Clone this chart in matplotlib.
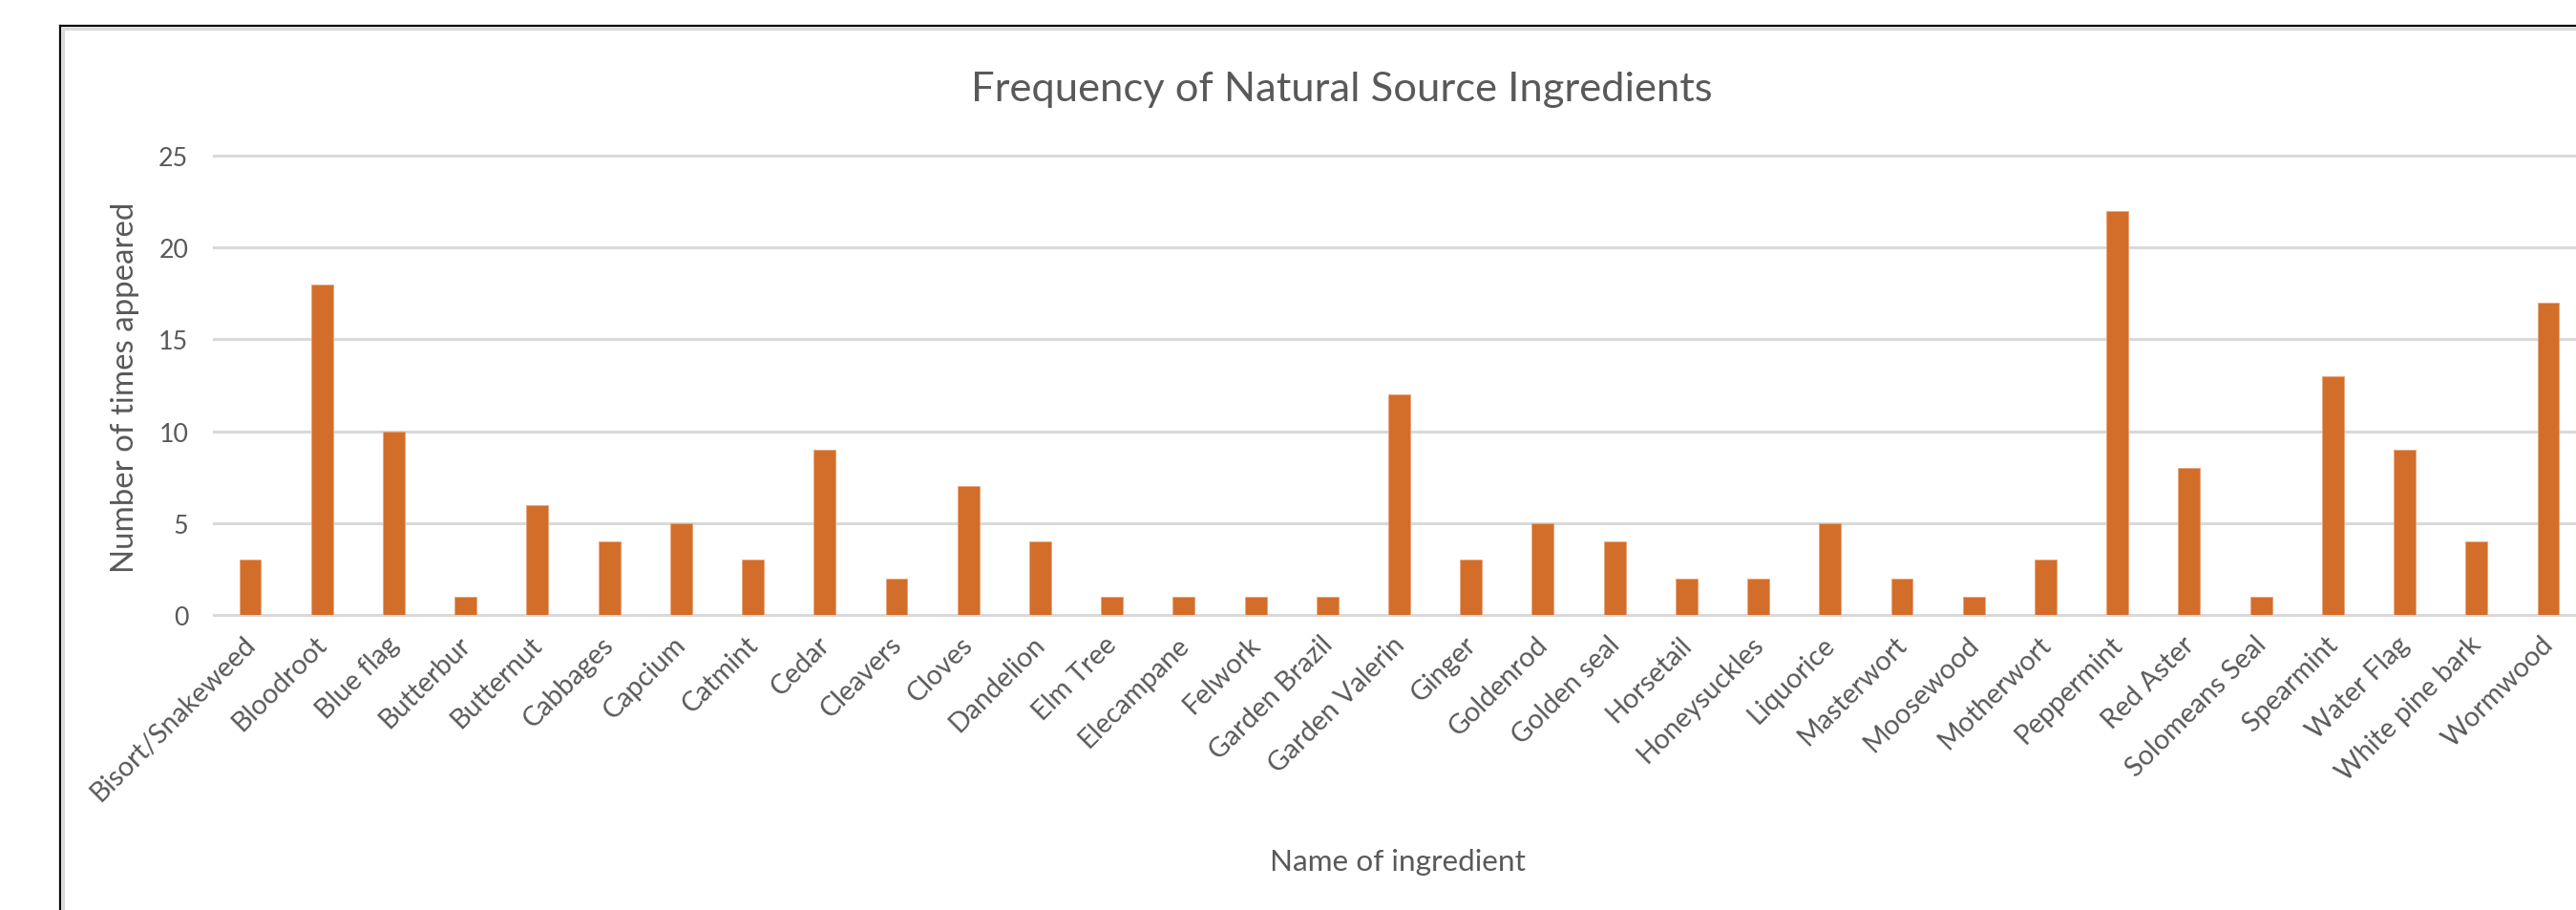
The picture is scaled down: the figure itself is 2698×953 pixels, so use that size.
import matplotlib
matplotlib.use("Agg")
import matplotlib.pyplot as plt
from matplotlib.font_manager import FontProperties
from matplotlib.lines import Line2D
from matplotlib.transforms import ScaledTranslation
import numpy as np

# ---------------- data ----------------
categories = [
    "Bisort/Snakeweed", "Bloodroot", "Blue flag", "Butterbur", "Butternut",
    "Cabbages", "Capcium", "Catmint", "Cedar", "Cleavers", "Cloves",
    "Dandelion", "Elm Tree", "Elecampane", "Felwork", "Garden Brazil",
    "Garden Valerin", "Ginger", "Goldenrod", "Golden seal", "Horsetail",
    "Honeysuckles", "Liquorice", "Masterwort", "Moosewood", "Motherwort",
    "Peppermint", "Red Aster", "Solomeans Seal", "Spearmint", "Water Flag",
    "White pine bark", "Wormwood",
]
counts = [3, 18, 10, 1, 6, 4, 5, 3, 9, 2, 7, 4, 1, 1, 1, 1, 12, 3, 5, 4, 2,
          2, 5, 2, 1, 3, 22, 8, 1, 13, 9, 4, 17]
y_ticks = [0, 5, 10, 15, 20, 25]
title_text = "Frequency of Natural Source Ingredients"
xlabel_text = "Name of ingredient"
ylabel_text = "Number of times appeared"

# ---------------- style ----------------
FONT = ["Lato", "DejaVu Sans"]
plt.rcParams["font.family"] = FONT
GREY = "#595959"
BAR = "#D36E2A"
GRID = "#D9D9D9"

W, H, DPI = 2698, 954, 100
fig = plt.figure(figsize=(W / DPI, H / DPI), dpi=DPI, facecolor="white")


def fx(px):
    return px / W


def fy(py):
    return 1 - py / H


renderer = fig.canvas.get_renderer()


def fit(s, target, base=20.0):
    fp = FontProperties(family=FONT, size=base)
    w, _, _ = renderer.get_text_width_height_descent(s, fp, ismath=False)
    return base * target / w


title_size = fit(title_text, 777)
xlabel_size = fit(xlabel_text, 268)
ylabel_size = fit(ylabel_text, 389)
ytick_size = fit("25", 31)
xtick_size = fit("Bisort/Snakeweed", 232)

ax_left, ax_right, ax_top, ax_bottom = 224.4, 2706.6, 164, 645
ax = fig.add_axes([fx(ax_left), fy(ax_bottom), (ax_right - ax_left) / W,
                   (ax_bottom - ax_top) / H])
ax.set_facecolor("white")

x = np.arange(len(categories))
ax.bar(x, counts, width=0.305, color=BAR, edgecolor="#E8A57C",
       linewidth=0.6, zorder=3)
ax.set_xlim(-0.5, len(categories) - 0.5)
ax.set_ylim(0, 25)
ax.set_yticks(y_ticks)
ax.yaxis.grid(True, color=GRID, linewidth=2.2)
ax.xaxis.grid(False)
ax.set_axisbelow(True)
for ln in ax.get_ygridlines():
    ln.set_clip_on(False)
for s in ax.spines.values():
    s.set_visible(False)

ax.tick_params(axis="both", length=0)
ax.tick_params(axis="y", pad=19.5, labelsize=ytick_size, labelcolor=GREY)
ax.set_xticks(x)
ax.set_xticklabels(categories, rotation=45, ha="right", va="center",
                   rotation_mode="anchor", fontsize=xtick_size, color=GREY)
ax.tick_params(axis="x", pad=19)
offset = ScaledTranslation(1 / DPI, 0, fig.dpi_scale_trans)
for lab in ax.get_xticklabels():
    lab.set_transform(lab.get_transform() + offset)

# titles
fig.text(fx(1405), fy(106), title_text, ha="center", va="baseline",
         fontsize=title_size, color=GREY)
fig.text(fx(1464), fy(912), xlabel_text, ha="center", va="baseline",
         fontsize=xlabel_size, color=GREY)
fig.text(fx(140), fy(406), ylabel_text, ha="center", va="baseline",
         rotation=90, rotation_mode="anchor", fontsize=ylabel_size, color=GREY)

# chart frame (left and top visible, rest cropped)
fig.add_artist(Line2D([fx(66), fx(66)], [fy(31), fy(H + 20)], color="#DADADA",
                      lw=2.2, transform=fig.transFigure))
fig.add_artist(Line2D([fx(66), fx(W + 20)], [fy(31), fy(31)], color="#DADADA",
                      lw=2.2, transform=fig.transFigure))
fig.add_artist(Line2D([fx(63), fx(63)], [fy(28), fy(H + 20)], color="black",
                      lw=1.6, transform=fig.transFigure))
fig.add_artist(Line2D([fx(63), fx(W + 20)], [fy(28), fy(28)], color="black",
                      lw=1.6, transform=fig.transFigure))

fig.savefig("out.png", dpi=DPI, facecolor="white")
